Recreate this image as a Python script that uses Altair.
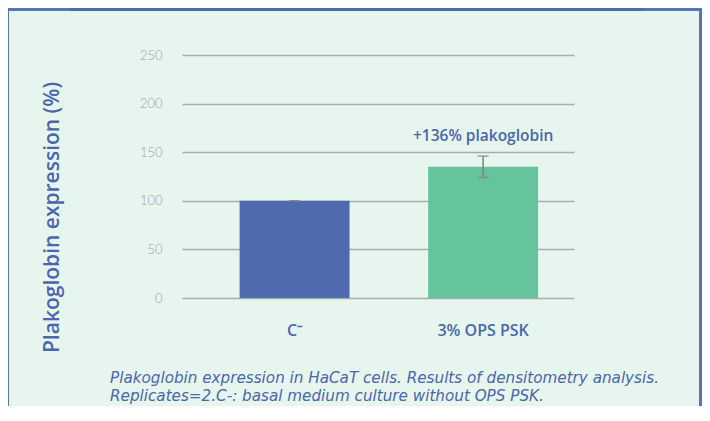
import altair as alt
import pandas as pd

# ---- data ----
categories = ["C⁻", "3% OPS PSK"]
values = [100, 135]
errors = [0, 11]
bar_colors = ["#4E6BB0", "#66C49C"]
annotations = ["", "+136% plakoglobin"]
y_ticks = [0, 50, 100, 150, 200, 250]
y_title = "Plakoglobin expression (%)"
caption_lines = [
    "Plakoglobin expression in HaCaT cells. Results of densitometry analysis.",
    "Replicates=2.C-: basal medium culture without OPS PSK.",
]

BLUE_TEXT = "#4A66B0"
BG = "#E7F5EF"

df = pd.DataFrame({
    "cat": categories,
    "value": values,
    "lo": [v - e for v, e in zip(values, errors)],
    "hi": [v + e for v, e in zip(values, errors)],
    "note": annotations,
})
one = alt.Data(values=[{"k": 1}])

x_enc = alt.X(
    "cat:N",
    sort=categories,
    scale=alt.Scale(paddingInner=0.417, paddingOuter=0.248, align=0.616),
    axis=alt.Axis(
        title=None, labelAngle=0, domain=False, ticks=False, labelPadding=24,
        labelFont="Open Sans", labelFontSize=16, labelFontWeight=600,
        labelColor=BLUE_TEXT,
    ),
)
y_scale = alt.Scale(domain=[0, 250], nice=False)

bars = alt.Chart(df).mark_bar().encode(
    x=x_enc,
    y=alt.Y(
        "value:Q",
        scale=y_scale,
        axis=alt.Axis(
            values=y_ticks, grid=True, domain=False, ticks=False,
            gridColor="#A9AEAB", gridWidth=1.3,
            labelFont="Lato", labelFontSize=13, labelFontWeight=300,
            labelColor="#9AA19E", labelPadding=20,
            title=y_title, titleFont="Open Sans", titleFontSize=21,
            titleFontWeight=600, titleColor=BLUE_TEXT,
            titleAngle=270, titleAlign="center", titleBaseline="middle",
            titleX=-130, titleY=162,
        ),
    ),
    color=alt.Color("cat:N", scale=alt.Scale(domain=categories, range=bar_colors), legend=None),
)

stems = alt.Chart(df).mark_rule(color="#7F8280", strokeWidth=1.5).encode(
    x=alt.X("cat:N", sort=categories), y=alt.Y("lo:Q", scale=y_scale), y2="hi:Q"
)
caps_lo = alt.Chart(df).mark_tick(color="#7F8280", size=11, thickness=1.5).encode(
    x=alt.X("cat:N", sort=categories), y=alt.Y("lo:Q", scale=y_scale)
)
caps_hi = alt.Chart(df).mark_tick(color="#7F8280", size=11, thickness=1.5).encode(
    x=alt.X("cat:N", sort=categories), y=alt.Y("hi:Q", scale=y_scale)
)

notes = alt.Chart(df).mark_text(
    font="Open Sans", fontSize=15.5, fontWeight=600, color=BLUE_TEXT,
    baseline="alphabetic", dy=-15,
).encode(
    x=alt.X("cat:N", sort=categories), y=alt.Y("hi:Q", scale=y_scale), text="note:N"
)

caption_layers = []
for i, line in enumerate(caption_lines):
    caption_layers.append(
        alt.Chart(pd.DataFrame({"t": [line]})).mark_text(
            font="DejaVu Sans", fontSize=15.2, fontStyle="italic", color=BLUE_TEXT,
            align="left", baseline="alphabetic",
        ).encode(x=alt.value(-72), y=alt.value(328 + 18 * i), text="t:N")
    )

# decorative frame
frame_color = "#5A74B9"
border_top = alt.Chart(one).mark_rect(color=frame_color).encode(
    x=alt.value(-175), x2=alt.value(520), y=alt.value(-47), y2=alt.value(-44)
)
border_left = alt.Chart(one).mark_rect(color=frame_color).encode(
    x=alt.value(-175), x2=alt.value(-173), y=alt.value(-47), y2=alt.value(360)
)
border_right = alt.Chart(one).mark_rect(color=frame_color).encode(
    x=alt.value(517), x2=alt.value(520), y=alt.value(-47), y2=alt.value(360)
)
top_bar = alt.Chart(one).mark_rect(color="#4E6BB0").encode(
    x=alt.value(-112), x2=alt.value(461), y=alt.value(-47), y2=alt.value(-44)
)

chart = alt.layer(
    border_top, border_left, border_right, top_bar,
    bars, stems, caps_lo, caps_hi, notes, *caption_layers,
).properties(
    width=392, height=243,
    autosize=alt.AutoSizeParams(type="none"),
    padding={"left": 174, "top": 47, "right": 128, "bottom": 108},
    background=BG,
).configure_view(stroke=None)

chart.save("out.html", embed_options={"renderer": "svg", "actions": False})
